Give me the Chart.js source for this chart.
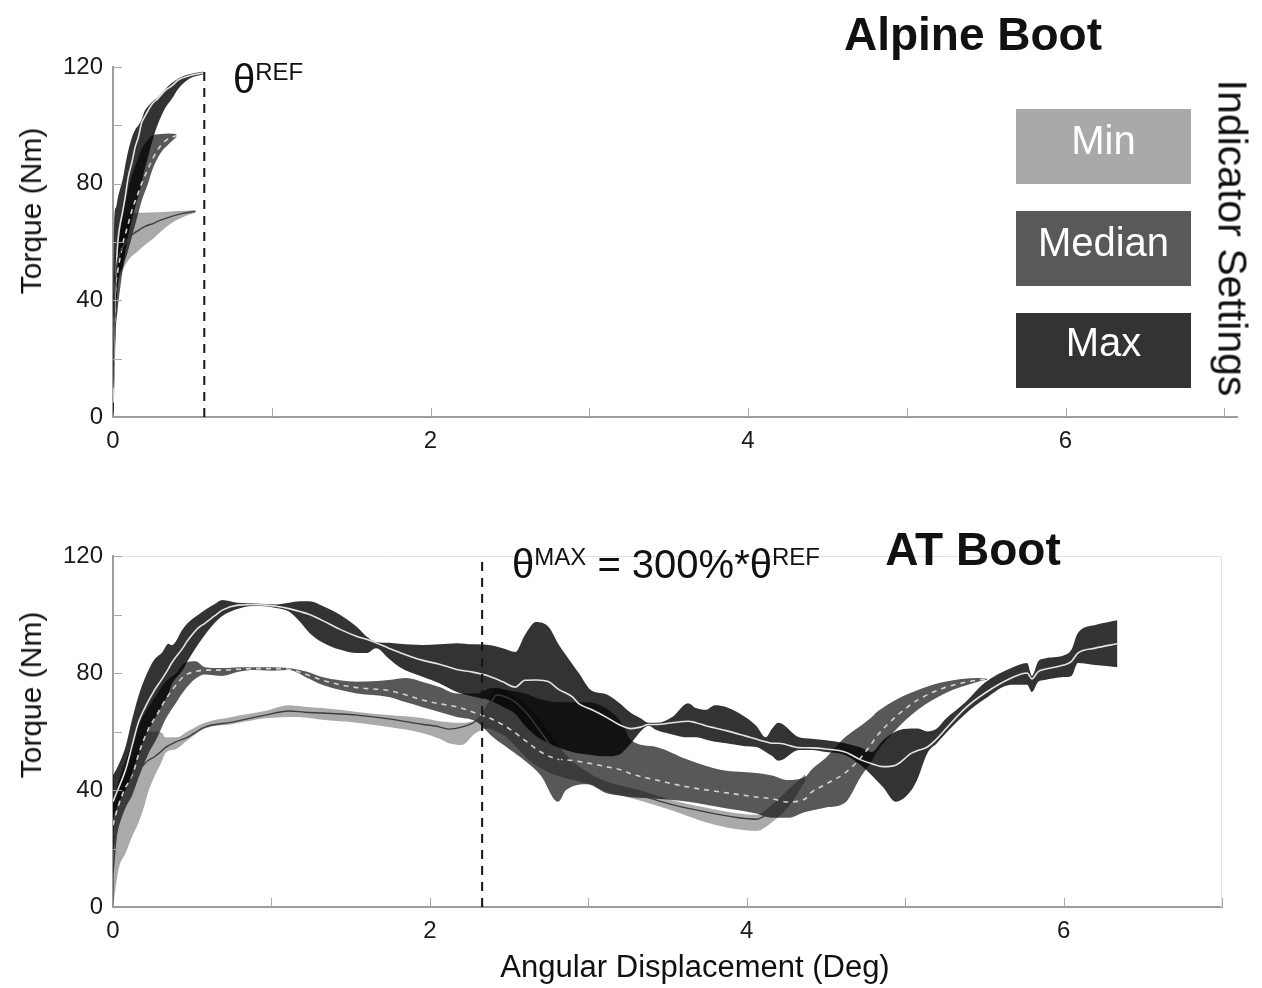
<!DOCTYPE html>
<html lang="en">
<head>
<meta charset="utf-8">
<title>Torque vs angular displacement</title>
<script src="https://cdn.jsdelivr.net/npm/chart.js@4.4.1/dist/chart.umd.min.js"></script>
<style>
  html, body { margin: 0; padding: 0; background: #fff; }
  #fig { position: relative; width: 1262px; height: 988px; overflow: hidden;
         font-family: "Liberation Sans", Arial, Helvetica, sans-serif; color: #111; }
  #fig canvas { position: absolute; left: 0; }
  .txt { position: absolute; white-space: nowrap; line-height: 1; }
  .title { font-weight: bold; font-size: 46px; width: 400px; left: 773px; text-align: center; }
  .sup { font-size: 24px; position: relative; top: -13px; }
  .sw { position: absolute; left: 1016px; width: 175px; height: 75px; }
  .swl { position: absolute; left: 1016px; width: 175px; text-align: center; color: #fff;
         font-size: 40px; line-height: 1; }
  .rot { position: absolute; white-space: nowrap; line-height: 1; transform-origin: center center; }
</style>
</head>
<body>
<div id="fig">
  <canvas id="alpine" width="1262" height="480" style="top:0"></canvas>
  <canvas id="at" width="1262" height="508" style="top:480px"></canvas>

  <div class="txt title" style="top:11px">Alpine Boot</div>
  <div class="txt title" style="top:526px">AT Boot</div>

  <div class="txt" style="left:233px;top:59px;font-size:40px">θ<span class="sup">REF</span></div>
  <div class="txt" style="left:512px;top:544px;font-size:40px">θ<span class="sup">MAX</span> = 300%*θ<span class="sup">REF</span></div>

  <div class="sw" style="top:109px;background:#a9a9a9"></div>
  <div class="sw" style="top:211px;background:#595959"></div>
  <div class="sw" style="top:313px;background:#333333"></div>
  <div class="swl" style="top:120px">Min</div>
  <div class="swl" style="top:222px">Median</div>
  <div class="swl" style="top:322px">Max</div>
  <div class="rot" style="font-size:41px;left:1232px;top:238px;transform:translate(-50%,-50%) rotate(90deg)">Indicator Settings</div>

  <div class="rot" style="font-size:30px;left:31px;top:211px;transform:translate(-50%,-50%) rotate(-90deg)">Torque (Nm)</div>
  <div class="rot" style="font-size:30px;left:31px;top:695px;transform:translate(-50%,-50%) rotate(-90deg)">Torque (Nm)</div>
  <div class="txt" style="font-size:31px;left:695px;top:951px;transform:translateX(-50%)">Angular Displacement (Deg)</div>
</div>

<script>
// ---- Alpine boot: envelope (lo/hi) and mean torque per indicator setting ----
const alpMaxX    = [0, 0.005, 0.01, 0.02, 0.03, 0.063, 0.076, 0.095, 0.12, 0.14, 0.16, 0.18, 0.20, 0.22, 0.25, 0.28, 0.33, 0.37, 0.41, 0.48, 0.57];
const alpMaxHi   = [30, 60, 70, 72, 75, 82, 86, 91, 96, 98.5, 100, 102, 105, 106.5, 108.3, 109.5, 112.5, 114.5, 116, 117.5, 118.5];
const alpMaxMean = [5, 20, 35, 50, 59.6, 71, 75, 82, 87.5, 92.6, 96, 100.8, 103, 105, 107.6, 109, 112, 113.5, 115.5, 117, 118];
const alpMaxLo   = [0, 3, 15, 35, 45, 52, 56, 62, 68, 72, 76, 80, 85, 89, 95, 100, 106, 109, 112.5, 116, 117.5];

const alpMedX    = [0, 0.005, 0.013, 0.03, 0.05, 0.06, 0.095, 0.12, 0.16, 0.18, 0.22, 0.25, 0.30, 0.35, 0.40];
const alpMedHi   = [25, 40, 51, 60, 66, 70, 78, 83, 89, 92, 95, 96.5, 97, 97.2, 97];
const alpMedMean = [5, 20, 40, 50, 56, 59, 66, 71, 77, 80, 85, 88.5, 93, 95.5, 96.4];
const alpMedLo   = [0, 8, 25, 37, 46, 50, 57, 62, 70, 74, 80, 85, 90.5, 93.5, 96];

const alpMinX    = [0, 0.005, 0.01, 0.02, 0.03, 0.06, 0.10, 0.16, 0.20, 0.26, 0.30, 0.37, 0.44, 0.52];
const alpMinHi   = [20, 35, 50, 58, 62, 66, 69.5, 70, 70, 70.2, 70.3, 70.5, 70.7, 71];
const alpMinMean = [10, 25, 40, 50, 54, 58, 61.5, 64, 65.3, 66.5, 67.5, 68.8, 69.8, 70.5];
const alpMinLo   = [0, 15, 30, 40, 45, 50, 54, 57, 59, 61.5, 63.5, 66.5, 68.5, 70];

// ---- AT boot ----
const atMaxX = [0, 0.03, 0.08, 0.12, 0.16, 0.20, 0.26, 0.31, 0.35, 0.37, 0.44, 0.47, 0.54, 0.58, 0.64,
  0.69, 0.79, 0.90, 0.96, 1.03, 1.11, 1.18, 1.24, 1.32, 1.43, 1.54, 1.60, 1.66, 1.74, 1.81,
  1.95, 2.06, 2.17, 2.27, 2.37, 2.46, 2.54, 2.60, 2.67, 2.75, 2.81, 2.90, 2.94, 3.02, 3.11,
  3.19, 3.27, 3.33, 3.38, 3.43, 3.53, 3.63, 3.68, 3.74, 3.80, 3.87, 3.99, 4.06, 4.12, 4.16,
  4.20, 4.33, 4.41, 4.50, 4.62, 4.72, 4.79, 4.86, 4.94, 5.04, 5.08, 5.14, 5.20, 5.25, 5.38,
  5.50, 5.67, 5.77, 5.80, 5.84, 5.88, 6.00, 6.05, 6.09, 6.20, 6.34];
const atMaxHi = [45, 48, 55, 64, 72, 78, 84.5, 87, 90, 89.5, 95, 97, 100, 101.5, 103.5,
  105, 104, 103.8, 103.6, 103.4, 104, 104.5, 104.5, 103, 100, 95.7, 92.5, 90.6, 90.3, 90,
  89.6, 89.8, 90.2, 89.8, 89.6, 88.5, 87.2, 93, 97.4, 95.7, 90, 83, 80, 74, 72.8,
  70, 66.3, 64.5, 63, 63, 65, 69.7, 68, 67.4, 69, 68.4, 65, 62, 58, 61,
  63, 58, 57.5, 57, 56, 54.5, 53, 57, 60, 61, 61, 60, 61, 64, 70,
  76.6, 81.7, 83.4, 79, 84, 85, 86, 88, 93.7, 96.4, 98];
const atMaxMean = [36, 40, 47, 55, 63, 68, 74, 78, 81.5, 83.4, 88.5, 91, 95.5, 97, 99.5,
  101.5, 103.2, 103.4, 103.2, 102.8, 102, 101, 100, 98, 95, 92.5, 91.5, 90.3, 88.5, 87,
  84.4, 83, 81.2, 80.3, 79, 77, 75.2, 77.5, 77.6, 77, 74.5, 71.8, 69.5, 67.5, 65,
  62.5, 61, 61.5, 62.4, 62.4, 63, 63.5, 63, 62, 61.2, 60.3, 58.5, 57.4, 56.5, 56,
  56, 54.5, 54.4, 54, 53, 50.3, 49, 48, 48.5, 52.6, 53.5, 54.7, 57.5, 60.5, 68,
  73, 78.3, 80, 78, 80.5, 81.3, 82.7, 84, 86.8, 88.5, 90];
const atMaxLo = [30, 35, 40, 46, 52, 58, 64, 69, 73, 76, 81, 84, 90, 93, 97,
  99.5, 102, 103, 102.8, 102.2, 101, 97.5, 93.7, 90.5, 88, 86.8, 86.8, 88.5, 85, 82,
  78.8, 76.5, 73.5, 72, 70.8, 68.5, 66, 62, 58.5, 56, 54.5, 53, 52.5, 52, 51.5,
  52, 56, 60, 62, 60.5, 59, 58, 58, 57.3, 56.5, 56, 55, 54.7, 53, 51.6,
  50, 53.7, 53.7, 53, 52, 48.5, 45, 41, 36, 40, 44, 52.6, 56, 59, 66,
  71, 76, 76, 73.5, 77, 77.6, 78.6, 79, 83.4, 82.7, 82];

const atMedX = [0, 0.03, 0.08, 0.12, 0.16, 0.22, 0.28, 0.33, 0.40, 0.45, 0.52, 0.58, 0.69, 0.80, 0.89,
  1.00, 1.11, 1.22, 1.32, 1.43, 1.54, 1.74, 1.85, 1.95, 2.06, 2.17, 2.29, 2.40, 2.50, 2.60,
  2.70, 2.81, 2.86, 3.00, 3.11, 3.21, 3.27, 3.43, 3.63, 3.84, 4.06, 4.16, 4.26, 4.37, 4.41,
  4.50, 4.62, 4.72, 4.79, 4.83, 4.94, 5.08, 5.25, 5.46, 5.52];
const atMedHi = [35, 42, 50, 56, 62, 68, 73, 77, 80, 83.4, 84, 82, 81.7, 82, 82,
  82, 81.7, 80.5, 78.6, 77.5, 77, 77.6, 78.3, 77, 75.2, 73, 73, 75, 74, 73,
  71, 70, 70, 70, 68, 63, 57, 54.7, 50.3, 46.8, 45.8, 45, 43.4, 44.5, 47,
  51, 58, 62, 65, 67, 70.8, 74.2, 77, 78.3, 78];
const atMedMean = [28, 34, 41, 44.4, 52, 60.5, 66, 70.8, 76, 79, 80.5, 81, 81, 81.3, 81.5,
  81.5, 81.3, 79.5, 77.6, 76, 75, 74, 72.5, 70.8, 69.5, 68.4, 66.3, 64, 61, 57,
  53, 50.5, 50.3, 49.2, 48, 46.8, 45.5, 43.4, 41, 39.3, 37.6, 37, 35.9, 37, 39.3,
  42, 45.8, 51, 56, 59, 65, 70.8, 75, 77.6, 78];
const atMedLo = [18, 26, 34, 38, 44, 52, 58, 64, 70, 74, 78, 79.5, 79, 80.5, 81,
  80.8, 81, 78.5, 76, 74.3, 73, 71.8, 70, 68.4, 66.7, 65, 63.5, 58, 54, 50,
  45, 36, 40, 42, 39, 38, 37.5, 37, 36, 34, 32, 30.5, 30.5, 32.5, 33,
  34, 35.6, 44.5, 50, 53.7, 60.5, 67.4, 73, 77, 77.8];

const atMinX = [0, 0.02, 0.04, 0.08, 0.12, 0.16, 0.20, 0.22, 0.26, 0.31, 0.33, 0.40, 0.47, 0.58, 0.75,
  0.96, 1.11, 1.21, 1.32, 1.54, 1.74, 1.95, 2.06, 2.12, 2.20, 2.29, 2.37, 2.42, 2.47, 2.54,
  2.63, 2.75, 2.86, 3.00, 3.11, 3.32, 3.53, 3.74, 3.95, 4.06, 4.16, 4.26, 4.37];
const atMinHi = [28, 35, 40, 45, 50, 54, 58, 60, 60, 59.5, 58, 58, 60, 63, 65,
  67, 69, 68.5, 68, 66.7, 65.6, 64.6, 63.5, 63.2, 63, 64, 70, 75, 74, 72,
  68, 60, 52, 46, 43, 40, 36.5, 34, 32, 31.5, 35, 40, 45.5];
const atMinMean = [11.6, 24, 32, 39, 44, 46.8, 49, 50, 51.3, 53.5, 54.5, 56.5, 58, 61.5, 63.2,
  65.6, 67, 66.6, 66.3, 65.6, 64.3, 62.5, 61.6, 60.8, 61.5, 63.5, 68, 72.5, 72, 70,
  65, 56, 48, 44, 41, 38.3, 35, 32.5, 30.5, 30, 33, 38, 44.5];
const atMinLo = [0, 8, 14, 18.5, 24, 28.7, 35, 39, 44.4, 50, 52.6, 54, 57, 61, 62.5,
  64.5, 65, 64.8, 64, 63, 61.5, 59.5, 57.5, 56, 55.4, 59.5, 61, 60, 58.6, 55,
  50, 46, 44, 42, 39.5, 36.5, 33, 29, 26.5, 26, 29, 34, 43];

// reference angles (deg) marked by the dashed lines
const thetaRef = 0.575;
const thetaMax = 2.33;

// axis ticks
const xTickLabels = [0, 2, 4, 6];
const yTickLabels = [0, 40, 80, 120];

// ---- styling ----
const FILL = { min: 'rgba(0,0,0,0.335)', median: 'rgba(0,0,0,0.655)', max: 'rgba(0,0,0,0.8)' };
const MEAN = {
  min:    { color: '#3c3c3c', width: 1.4, dash: [] },
  median: { color: '#d2d2d2', width: 1.6, dash: [5, 5] },
  max:    { color: '#e4e4e4', width: 1.6, dash: [] }
};
const TICK_FONT = { family: '"Liberation Sans", Arial, sans-serif', size: 24 };

function pts(xs, ys) { return xs.map((x, i) => ({ x: x, y: ys[i] })); }

function band(xs, lo, hi, mean, key) {
  return [
    { data: pts(xs, lo), borderWidth: 0, borderColor: 'rgba(0,0,0,0)', pointRadius: 0, fill: false, order: 3 },
    { data: pts(xs, hi), borderWidth: 0, borderColor: 'rgba(0,0,0,0)', pointRadius: 0, fill: '-1', backgroundColor: FILL[key], order: 3 },
    { data: pts(xs, mean), borderWidth: MEAN[key].width, borderColor: MEAN[key].color, borderDash: MEAN[key].dash,
      pointRadius: 0, fill: false, order: 2 }
  ];
}

function marker(x, yTop) {
  return { data: [{ x: x, y: 0 }, { x: x, y: yTop }], borderColor: '#151515', borderWidth: 2,
           borderDash: [9, 7], pointRadius: 0, fill: false, order: 0, cubicInterpolationMode: 'default', tension: 0 };
}

// short inward tick marks and optional light frame on top/right
const axisMarks = {
  id: 'axisMarks',
  afterDatasetsDraw(chart, _args, opts) {
    const { ctx, chartArea: a, scales } = chart;
    const xs = scales.x, ys = scales.y;
    ctx.save();
    ctx.lineWidth = 1;
    if (opts.frame) {
      ctx.strokeStyle = opts.frame;
      ctx.beginPath();
      ctx.moveTo(a.left, a.top + 0.5);
      ctx.lineTo(a.right - 0.5, a.top + 0.5);
      ctx.lineTo(a.right - 0.5, a.bottom);
      ctx.stroke();
    }
    ctx.strokeStyle = opts.color;
    ctx.beginPath();
    xs.ticks.forEach(t => {
      if (t.value <= xs.min) return;
      const p = Math.round(xs.getPixelForValue(t.value)) + 0.5;
      ctx.moveTo(p, a.bottom); ctx.lineTo(p, a.bottom - opts.len);
    });
    ys.ticks.forEach(t => {
      if (t.value <= ys.min) return;
      const p = Math.round(ys.getPixelForValue(t.value)) + 0.5;
      ctx.moveTo(a.left, p); ctx.lineTo(a.left + opts.len, p);
    });
    ctx.stroke();
    ctx.restore();
  }
};

function makeChart(id, datasets, cfg) {
  return new Chart(document.getElementById(id), {
    type: 'line',
    data: { datasets: datasets },
    plugins: [axisMarks],
    options: {
      responsive: false,
      animation: false,
      devicePixelRatio: 1,
      events: [],
      layout: { padding: { top: cfg.padTop, right: cfg.padRight, left: 0, bottom: 0 } },
      elements: { line: { cubicInterpolationMode: 'monotone' } },
      plugins: {
        legend: { display: false },
        tooltip: { enabled: false },
        filler: { propagate: false, drawTime: 'beforeDatasetsDraw' },
        axisMarks: { color: '#a8a8a8', len: 9, frame: cfg.frame }
      },
      scales: {
        x: {
          type: 'linear', min: 0, max: cfg.xMax,
          border: { display: true, color: '#9c9c9c', width: 2 },
          grid: { display: false, drawTicks: false },
          ticks: {
            stepSize: 1, includeBounds: false, autoSkip: false, maxRotation: 0, padding: 10,
            color: '#1a1a1a', font: TICK_FONT,
            callback: v => (xTickLabels.includes(v) ? String(v) : '')
          },
          afterFit: s => { s.height = cfg.xAxisH; }
        },
        y: {
          type: 'linear', min: 0, max: 120,
          border: { display: true, color: '#9c9c9c', width: 2 },
          grid: { display: false, drawTicks: false },
          ticks: {
            stepSize: 20, autoSkip: false, padding: 10,
            color: '#1a1a1a', font: TICK_FONT,
            callback: v => (yTickLabels.includes(v) ? String(v) : '')
          },
          afterFit: s => { s.width = 113; }
        }
      }
    }
  });
}

makeChart('alpine', [].concat(
  band(alpMinX, alpMinLo, alpMinHi, alpMinMean, 'min'),
  band(alpMedX, alpMedLo, alpMedHi, alpMedMean, 'median'),
  band(alpMaxX, alpMaxLo, alpMaxHi, alpMaxMean, 'max'),
  [marker(thetaRef, 118.3)]
), { padTop: 67, padRight: 25, xMax: 7.08, xAxisH: 63, frame: null });

makeChart('at', [].concat(
  band(atMinX, atMinLo, atMinHi, atMinMean, 'min'),
  band(atMedX, atMedLo, atMedHi, atMedMean, 'median'),
  band(atMaxX, atMaxLo, atMaxHi, atMaxMean, 'max'),
  [marker(thetaMax, 118.6)]
), { padTop: 76, padRight: 40, xMax: 7, xAxisH: 81, frame: '#e2e2e2' });
</script>
</body>
</html>
